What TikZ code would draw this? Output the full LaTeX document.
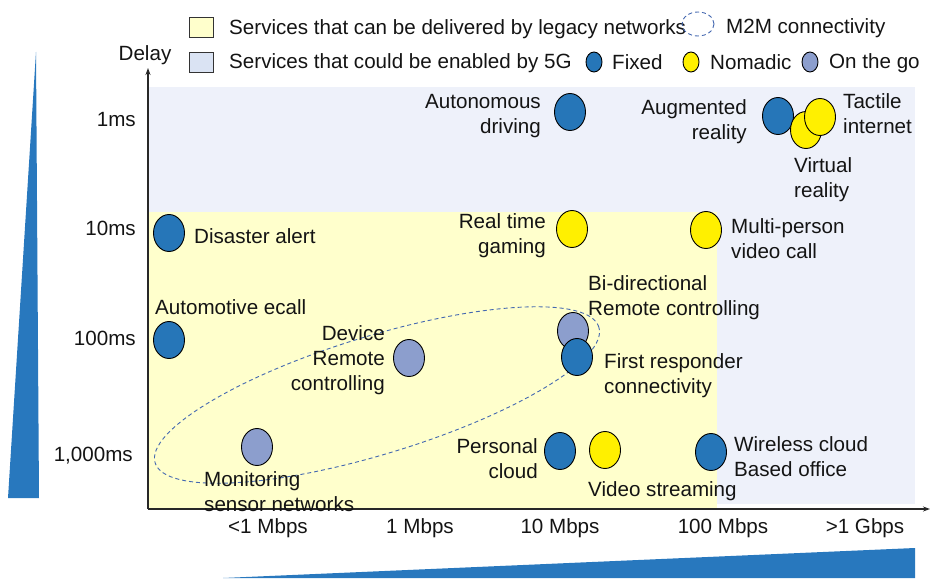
\documentclass[tikz,border=0pt]{standalone}
\usepackage{fontspec}
\setmainfont{Liberation Sans}
\usetikzlibrary{shapes.geometric,arrows.meta}

\definecolor{fixedblue}{RGB}{38,118,184}
\definecolor{nomyellow}{RGB}{255,240,0}
\definecolor{gogray}{RGB}{140,158,205}
\definecolor{legacyfill}{RGB}{255,255,204}
\definecolor{fivegfill}{RGB}{238,241,250}
\definecolor{legbluesq}{RGB}{218,227,243}
\definecolor{wedgeblue}{RGB}{40,120,190}
\definecolor{m2mline}{RGB}{68,104,176}
\definecolor{axisgray}{RGB}{40,40,40}

\begin{document}
\begin{tikzpicture}[x=1pt,y=-1pt,
  lbl/.style={font=\fontsize{20.6}{25}\selectfont, inner sep=0pt, text=black!92},
  lblL/.style={lbl, anchor=west, align=left},
  lblR/.style={lbl, anchor=east, align=right},
  lblC/.style={lbl, anchor=center},
  svc/.style={ellipse, draw=black, line width=0.9pt, minimum width=31pt, minimum height=37pt, inner sep=0pt},
  svcfixed/.style={svc, fill=fixedblue},
  svcnomadic/.style={svc, fill=nomyellow},
  svcgo/.style={svc, fill=gogray},
  legdot/.style={ellipse, draw=black, line width=0.9pt, minimum width=16pt, minimum height=20pt, inner sep=0pt},
  legsq/.style={draw=black!80, line width=0.9pt, minimum width=24pt, minimum height=20pt, inner sep=0pt},
  m2m/.style={draw=m2mline, dash pattern=on 4pt off 3pt, line width=0.9pt},
  axisline/.style={draw=axisgray, line width=1.3pt, -{Stealth[length=7pt,width=5pt]}},
]
\useasboundingbox (0,0) rectangle (931,578);

% service regions
\fill[fivegfill] (148,87) rectangle (915,504);
\fill[legacyfill] (148,212) rectangle (717,508);

% growth wedges
\fill[wedgeblue] (36,52) -- (39,498) -- (8,498) -- cycle;
\fill[wedgeblue] (223,578) -- (915,548) -- (915,578) -- cycle;

% axes
\coordinate (origin) at (148,509);
\coordinate (ytip) at (148,68);
\coordinate (xtip) at (930,509);
\draw[axisline] (origin) -- (ytip);
\draw[axisline] (origin) -- (xtip);
\node[lblC] (delay) at (145,55) {Delay};

% delay ticks
\node[lblR] (d1) at (136,120) {1ms};
\node[lblR] (d10) at (136,228) {10ms};
\node[lblR] (d100) at (136,338) {100ms};
\node[lblR] (d1000) at (133,456) {1,000ms};

% rate ticks
\node[lblC] (r1) at (268,528) {<1 Mbps};
\node[lblC] (r2) at (420,528) {1 Mbps};
\node[lblC] (r3) at (560,528) {10 Mbps};
\node[lblC] (r4) at (723,528) {100 Mbps};
\node[lblC] (r5) at (865,528) {>1 Gbps};

% legend
\node[legsq, fill=legacyfill] (sqY) at (201,27) {};
\node[lblL] (tY) at (229,29) {Services that can be delivered by legacy networks};
\node[legsq, fill=legbluesq] (sqB) at (201,62) {};
\node[lblL] (tB) at (229,63) {Services that could be enabled by 5G};
\node[ellipse, m2m, minimum width=32pt, minimum height=24pt, inner sep=0pt] (legm2m) at (698,24) {};
\node[lblL] (tM) at (726,28) {M2M connectivity};
\node[legdot, fill=fixedblue] (legF) at (594,62) {};
\node[lblL] (tF) at (612,62) {Fixed};
\node[legdot, fill=nomyellow] (legN) at (691,62) {};
\node[lblL] (tN) at (710,62) {Nomadic};
\node[legdot, fill=gogray] (legG) at (810,62) {};
\node[lblL] (tG) at (829,63) {On the go};

% M2M connectivity zone
\node[ellipse, m2m, minimum width=464pt, minimum height=118pt, rotate=17, inner sep=0pt] (m2mzone) at (377,395) {};

% services
\node[svcfixed] (auto) at (570,112) {};
\node[lblR] (autoT) at (541,116) {Autonomous\\driving};
\node[svcfixed] (ar) at (778,116) {};
\node[lblR] (arT) at (747,122) {Augmented\\reality};
\node[svcnomadic] (vr) at (806,130) {};
\node[lblL] (vrT) at (794,180) {Virtual\\reality};
\node[svcnomadic] (tact) at (820,117) {};
\node[lblL] (tactT) at (843,114) {Tactile\\internet};

\node[svcfixed] (dis) at (169,233) {};
\node[lblL] (disT) at (194,236) {Disaster alert};
\node[svcnomadic] (game) at (572,229) {};
\node[lblR] (gameT) at (546,236) {Real time\\gaming};
\node[svcnomadic] (mpv) at (706,230) {};
\node[lblL] (mpvT) at (731,239) {Multi-person\\video call};

\node[lblL] (ecallT) at (155,307) {Automotive ecall};
\node[svcfixed] (ecall) at (169,340) {};
\node[svcgo] (dev) at (409,358) {};
\node[lblR] (devT) at (385,360) {Device\\Remote\\controlling};
\node[svcgo] (bidir) at (573,331) {};
\node[lblL] (bidirT) at (588,298) {Bi-directional\\Remote controlling};
\node[svcfixed] (first) at (577,357) {};
\node[lblL] (firstT) at (604,376) {First responder\\connectivity};

\node[svcgo] (mon) at (257,447) {};
\node[lblL] (monT) at (204,492) {Monitoring\\sensor networks};
\node[svcfixed] (pc) at (560,451) {};
\node[lblR] (pcT) at (538,459) {Personal\\cloud};
\node[svcnomadic] (vid) at (605,450) {};
\node[lblL] (vidT) at (588,491) {Video streaming};
\node[svcfixed] (wco) at (711,452) {};
\node[lblL] (wcoT) at (734,457) {Wireless cloud\\Based office};
\end{tikzpicture}
\end{document}
